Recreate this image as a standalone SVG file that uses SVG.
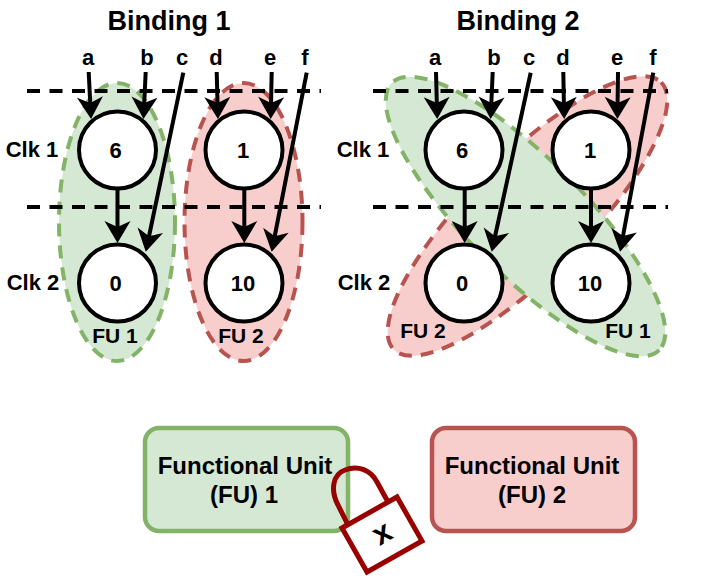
<svg xmlns="http://www.w3.org/2000/svg" width="706" height="587" viewBox="0 0 706 587">
<style>
text{font-family:"Liberation Sans",Arial,sans-serif;font-weight:bold;fill:#000;text-anchor:middle}
.title{font-size:27px}
.lab{font-size:22px}
.clk{font-size:22px}
.num{font-size:22px}
.fu{font-size:21px}
.big{font-size:24px}
.g{fill:#d5e8d4;stroke:#82b366}
.r{fill:#f8cecc;stroke:#b85450}
.ell{stroke-width:4;stroke-dasharray:13 9}
.box{stroke-width:4.500}
.dash{fill:none;stroke:#000;stroke-width:4;stroke-dasharray:13 9.500}
.op{fill:#fff;stroke:#000;stroke-width:4}
.arr{fill:none;stroke:#000;stroke-width:4;marker-end:url(#ah)}
.lock{stroke:#990000;stroke-width:5}
</style>
<defs>
<marker id="ah" markerUnits="userSpaceOnUse" markerWidth="30" markerHeight="30" refX="15" refY="15" orient="auto" viewBox="0 0 30 30">
<path d="M2,2 L8,15 L2,28 L24,15 Z" fill="#000"/>
</marker>
</defs>
<g id="fu-ellipses-b1">
<ellipse id="b1-fu1" class="g ell" cx="117" cy="222" rx="58" ry="139"/>
<ellipse id="b1-fu2" class="r ell" cx="243.5" cy="222" rx="59" ry="139"/>
</g>
<g id="fu-ellipses-b2">
<ellipse id="b2-fu2" class="r ell" cx="527.5" cy="216" rx="189" ry="58" transform="rotate(-45 527.5 216)"/>
<ellipse id="b2-fu1" class="g ell" cx="525.5" cy="216.5" rx="189" ry="58" transform="rotate(45 525.5 216.5)"/>
</g>
<g id="node-b1-6"><circle class="op" cx="117.5" cy="150" r="38.500"/><text class="num" x="115.500" y="158">6</text></g>
<g id="node-b1-1"><circle class="op" cx="244" cy="150" r="38.500"/><text class="num" x="243" y="158">1</text></g>
<g id="node-b1-0"><circle class="op" cx="117.5" cy="283" r="38.500"/><text class="num" x="115.500" y="291">0</text></g>
<g id="node-b1-10"><circle class="op" cx="244" cy="283" r="38.500"/><text class="num" x="243" y="291">10</text></g>
<g id="node-b2-6"><circle class="op" cx="464" cy="150" r="38.500"/><text class="num" x="462" y="158">6</text></g>
<g id="node-b2-1"><circle class="op" cx="591" cy="150" r="38.500"/><text class="num" x="590" y="158">1</text></g>
<g id="node-b2-0"><circle class="op" cx="464" cy="283" r="38.500"/><text class="num" x="462" y="291">0</text></g>
<g id="node-b2-10"><circle class="op" cx="591" cy="283" r="38.500"/><text class="num" x="590" y="291">10</text></g>
<g id="connectors">
<path class="dash" d="M27,91H321M27,207H321M373,91H668M373,207H668"/>
<path class="arr" d="M88.700,72L90.600,110"/>
<path class="arr" d="M145.700,72L143.900,110"/>
<path class="arr" d="M183.300,72.700L147.600,243"/>
<path class="arr" d="M117.500,190V234"/>
<path class="arr" d="M216.700,72L217.700,110"/>
<path class="arr" d="M271.700,72L270.900,110"/>
<path class="arr" d="M306.700,72.700L273.400,243"/>
<path class="arr" d="M244.300,190V234"/>
<path class="arr" d="M436,72L437,110"/>
<path class="arr" d="M492.700,72L491,110"/>
<path class="arr" d="M530.700,72.700L493.600,243"/>
<path class="arr" d="M464.700,189V234"/>
<path class="arr" d="M563.300,72L564,110"/>
<path class="arr" d="M618,72L617.500,110"/>
<path class="arr" d="M653.300,72.700L621.700,243"/>
<path class="arr" d="M591,189V234"/>
</g>
<g id="labels">
<text class="title" x="169" y="30">Binding 1</text>
<text class="title" x="518" y="30">Binding 2</text>
<text class="lab" x="88" y="65">a</text><text class="lab" x="147" y="65">b</text><text class="lab" x="182" y="65">c</text><text class="lab" x="216" y="65">d</text><text class="lab" x="270" y="65">e</text><text class="lab" x="305" y="65">f</text>
<text class="lab" x="435" y="65">a</text><text class="lab" x="494" y="65">b</text><text class="lab" x="529" y="65">c</text><text class="lab" x="563" y="65">d</text><text class="lab" x="617" y="65">e</text><text class="lab" x="653" y="65">f</text>
<text class="clk" x="32" y="157">Clk 1</text><text class="clk" x="33" y="290">Clk 2</text>
<text class="clk" x="363" y="157">Clk 1</text><text class="clk" x="364" y="290">Clk 2</text>
<text class="fu" x="115" y="343">FU 1</text><text class="fu" x="241" y="343">FU 2</text>
<text class="fu" x="423" y="338">FU 2</text><text class="fu" x="628" y="338">FU 1</text>
</g>
<g id="fu1-box"><rect class="g box" x="145" y="428" width="203" height="103" rx="14"/>
<text class="big" x="245" y="474">Functional Unit</text><text class="big" x="244" y="503">(FU) 1</text></g>
<g id="fu2-box"><rect class="r box" x="432" y="428" width="203" height="103" rx="14"/>
<text class="big" x="532" y="474">Functional Unit</text><text class="big" x="532" y="503">(FU) 2</text></g>
<g id="lock">
<path class="lock" fill="none" d="M348,525L338,505C330,490 333,474 345,470C358,465 371,470 377,482L388,502"/>
<path class="lock" fill="#fff" d="M342,528L397,497L422,541L367,572Z"/>
<text x="382" y="543" font-size="31" transform="rotate(-30 382 533)">x</text>
</g>
</svg>
